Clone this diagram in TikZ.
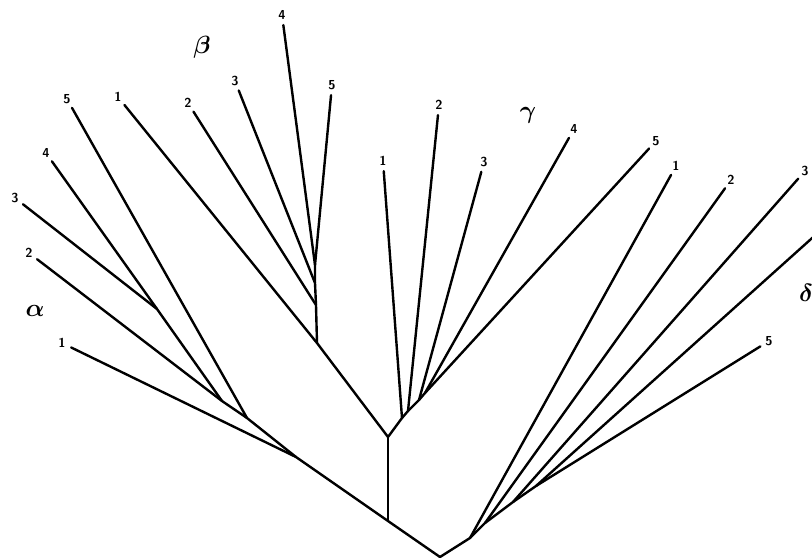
\documentclass[tikz,border=0pt]{standalone}
\usepackage{tikz}
\usetikzlibrary{positioning}

\begin{document}
\begin{tikzpicture}[
  x=1pt, y=-1pt,
  branch/.style={line width=2.4pt, line cap=round, line join=round},
  leaf/.style={circle, inner sep=0pt, minimum size=20pt, font=\fontsize{13}{13}\selectfont\sffamily\bfseries},
  group/.style={inner sep=0pt, font=\fontsize{30}{30}\selectfont\boldmath}
]
\clip (0,0) rectangle (812,560);

% Trunk
\coordinate (root) at (440,557);
\coordinate (split) at (388,521);
\coordinate (fork) at (388,437);

% Group alpha
\coordinate (a1) at (296,457);
\coordinate (a2) at (247,418);
\coordinate (a3) at (222,401);
\coordinate (a4) at (157,309);
\node[leaf] (al1) at (62,343) {1};
\node[leaf] (al2) at (29,253) {2};
\node[leaf] (al3) at (15,198) {3};
\node[leaf] (al4) at (46,153) {4};
\node[leaf] (al5) at (67,99) {5};
\node[group] (alpha) at (35,311) {$\alpha$};

% Group beta
\coordinate (b1) at (317,343);
\coordinate (b2) at (316,305);
\coordinate (b3) at (315,283);
\coordinate (b4) at (315,265);
\node[leaf] (be1) at (118,97) {1};
\node[leaf] (be2) at (188,103) {2};
\node[leaf] (be3) at (235,81) {3};
\node[leaf] (be4) at (282,15) {4};
\node[leaf] (be5) at (332,85) {5};
\node[group] (beta) at (202,47) {$\beta$};

% Group gamma
\coordinate (g1) at (402,418);
\coordinate (g2) at (408,411);
\coordinate (g3) at (419,400);
\coordinate (g4) at (425,393);
\node[leaf] (ga1) at (383,161) {1};
\node[leaf] (ga2) at (439,105) {2};
\node[leaf] (ga3) at (484,162) {3};
\node[leaf] (ga4) at (574,129) {4};
\node[leaf] (ga5) at (656,141) {5};
\node[group] (gamma) at (528,115) {$\gamma$};

% Group delta
\coordinate (d1) at (470,538);
\coordinate (d2) at (485,523);
\coordinate (d3) at (513,502);
\coordinate (d4) at (536,486);
\coordinate (d4tip) at (840,213);
\node[leaf] (de1) at (676,166) {1};
\node[leaf] (de2) at (731,180) {2};
\node[leaf] (de3) at (805,171) {3};
\node[leaf] (de5) at (769,341) {5};
\node[group] (delta) at (806,293) {$\delta$};

% Branches
\draw[branch] (root) -- (split) -- (a1);
\draw[branch] (split) -- (fork);
\draw[branch] (root) -- (d1);

\draw[branch] (a1) -- (al1);
\draw[branch] (a1) -- (a2) -- (al5);
\draw[branch] (a2) -- (a3) -- (al2);
\draw[branch] (a3) -- (a4) -- (al3);
\draw[branch] (a4) -- (al4);

\draw[branch] (fork) -- (b1) -- (be1);
\draw[branch] (b1) -- (b2) -- (be2);
\draw[branch] (b2) -- (b3) -- (be3);
\draw[branch] (b3) -- (b4) -- (be4);
\draw[branch] (b4) -- (be5);

\draw[branch] (fork) -- (g1) -- (ga1);
\draw[branch] (g1) -- (g2) -- (ga2);
\draw[branch] (g2) -- (g3) -- (ga3);
\draw[branch] (g3) -- (g4) -- (ga4);
\draw[branch] (g4) -- (ga5);

\draw[branch] (d1) -- (de1);
\draw[branch] (d1) -- (d2) -- (de2);
\draw[branch] (d2) -- (d3) -- (de3);
\draw[branch] (d3) -- (d4) -- (d4tip);
\draw[branch] (d4) -- (de5);

\end{tikzpicture}
\end{document}
